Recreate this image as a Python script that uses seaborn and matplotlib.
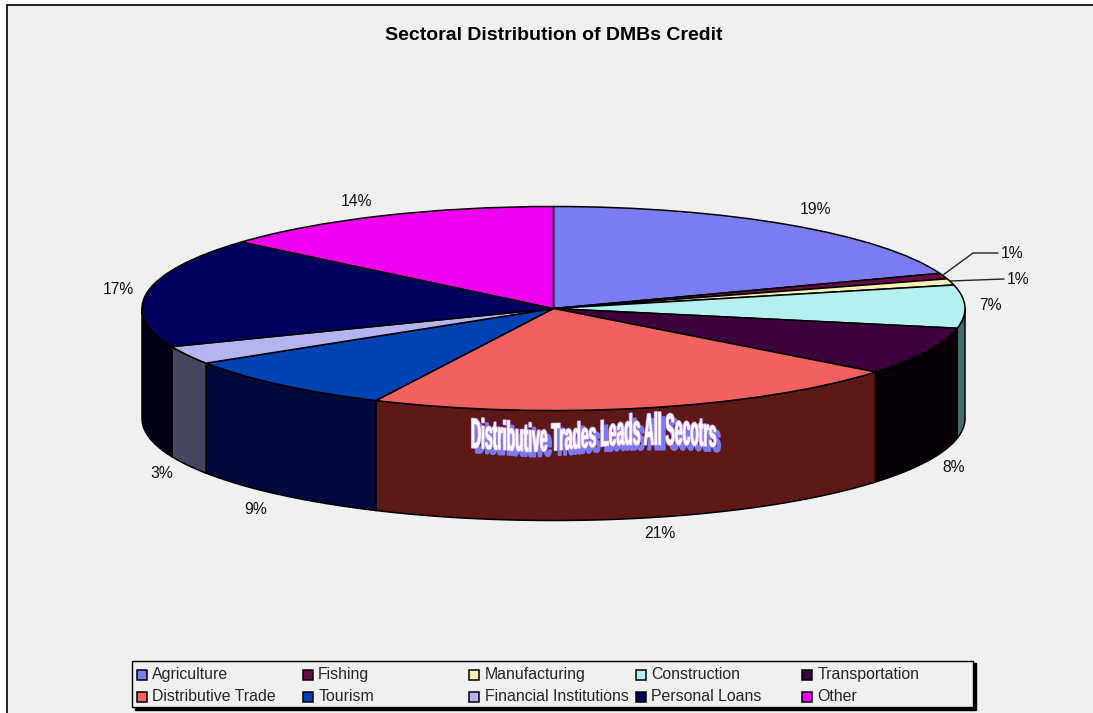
import numpy as np
import pandas as pd
import seaborn as sns
import matplotlib
matplotlib.use("Agg")
import matplotlib.pyplot as plt
import matplotlib.patheffects as pe
from matplotlib.colors import to_rgb
from matplotlib.path import Path
from matplotlib.patches import Rectangle, Patch
from matplotlib.transforms import IdentityTransform

# Sector shares of deposit money bank credit, in percent
sectors = ["Agriculture", "Fishing", "Manufacturing", "Construction", "Transportation",
           "Distributive Trade", "Tourism", "Financial Institutions", "Personal Loans", "Other"]
shares = [19.4, 0.9, 1.0, 6.8, 7.6, 21.4, 8.9, 2.9, 17.4, 13.7]

top_colors = ["#7b7bf2", "#6b0a46", "#f5f0b4", "#b4f0f0", "#3c003c",
              "#f26060", "#0041b4", "#b4b4f0", "#00005f", "#f000f0"]
side_colors = ["#32326b", "#2b0420", "#6b6b4c", "#456b6b", "#080008",
               "#5f1818", "#00083c", "#46465f", "#000014", "#6b006b"]

title_text = "Sectoral Distribution of DMBs Credit"
banner_text = "Distributive Trades Leads All Secotrs"

# Pixel layout of the page
W, H = 1093, 713
CX, CY = 553.5, 308.5
RX, RY = 411.5, 102.0
DEPTH = 110.0 / RY

# Centres of the percentage labels and optional leader lines
label_xy = [(815, 210), (1012, 254), (1018, 280), (990, 306), (954, 467),
            (660, 533), (256, 510), (162, 473), (118, 289), (356, 201)]
leaders = {1: [(943, 275), (973, 253), (998, 253)],
           2: [(950, 281), (1004, 279)]}


def to_data(px, py):
    return (px - CX) / RX, (CY - py) / RY


class WarpedLettering(pe.AbstractPathEffect):
    """Stretches a text path between a wavy top and bottom edge."""

    def __init__(self, span, tops, bottoms, layers):
        self.span, self.tops, self.bottoms = span, tops, bottoms
        self.layers = layers

    def draw_path(self, renderer, gc, tpath, affine, rgbFace=None):
        v = affine.transform(tpath.vertices)
        x0, y0 = v.min(axis=0)
        x1, y1 = v.max(axis=0)
        u = (v[:, 0] - x0) / (x1 - x0)
        t = (v[:, 1] - y0) / (y1 - y0)
        knots = np.linspace(0, 1, len(self.tops))
        top = np.interp(u, knots, self.tops)
        bottom = np.interp(u, knots, self.bottoms)
        for shift, color, lw in self.layers:
            x = self.span[0] + u * (self.span[1] - self.span[0]) + shift[0]
            y = bottom + t * (top - bottom) + shift[1]
            g = renderer.new_gc()
            g.copy_properties(gc)
            g.set_foreground(color)
            g.set_linewidth(lw)
            renderer.draw_path(g, Path(np.column_stack([x, H - y]), tpath.codes),
                               IdentityTransform(), to_rgb(color))
            g.restore()


sns.set_theme(style="white")
plt.rcParams["font.family"] = ["Liberation Sans", "DejaVu Sans"]
palette = sns.color_palette(top_colors)

data = pd.DataFrame({"sector": sectors, "share": shares, "side": side_colors})

fig = plt.figure(figsize=(W / 100, H / 100), dpi=100, facecolor="white")
fig.add_artist(Rectangle((7 / W, -0.1), 1.2, 1.1 - 5 / H, transform=fig.transFigure,
                         facecolor="#f0f0f0", edgecolor="black", linewidth=1.2, zorder=-5))
ax = fig.add_axes([0, 0, 1, 1])
ax.patch.set_visible(False)

wedges, _ = ax.pie(data["share"], colors=palette, startangle=90, counterclock=False,
                   radius=1.0, center=(0, 0),
                   wedgeprops=dict(edgecolor="black", linewidth=1.1, zorder=3))
ax.set_aspect("auto")
ax.set_xlim((0 - CX) / RX, (W - CX) / RX)
ax.set_ylim((CY - H) / RY, CY / RY)
ax.set_axis_off()

# Side wall of the disc: only the part of each slice facing the viewer
edges = 90 - 3.6 * np.cumsum([0] + shares)
for i, side in enumerate(data["side"]):
    a_start, a_end = edges[i + 1] % 360, edges[i + 1] % 360 + 3.6 * shares[i]
    lo, hi = max(a_start, 180), min(a_end, 360)
    if hi <= lo:
        # the slice may sit in the next turn of the circle
        lo, hi = max(a_start - 360, 180), min(a_end - 360, 360)
    if hi <= lo:
        continue
    th = np.radians(np.linspace(lo, hi, 80))
    xs, ys = np.cos(th), np.sin(th)
    ax.fill(np.r_[xs, xs[::-1]], np.r_[ys, ys[::-1] - DEPTH],
            facecolor=side, edgecolor="black", linewidth=1.1, zorder=2)

for i, (val, (px, py)) in enumerate(zip(shares, label_xy)):
    ax.text(*to_data(px, py), f"{val:.0f}%", ha="center", va="center",
            fontsize=11.3, color="#111111", zorder=6)
    if i in leaders:
        pts = np.array([to_data(*p) for p in leaders[i]])
        ax.plot(pts[:, 0], pts[:, 1], color="#222222", lw=1.0, zorder=5)

fig.text(553.5 / W, 1 - 36 / H, title_text, ha="center", va="center",
         fontsize=14, fontweight="bold", color="black")

# Banner lettering on the front wall: shadow, outline, then the white core
span = (471, 716)
tops = [417, 420, 423, 422, 421, 414, 412, 413, 419]
bottoms = [448, 450, 452, 450, 447, 445, 445, 445, 447]
banner = fig.text(593 / W, 1 - 433 / H, banner_text, ha="center", va="center",
                  fontsize=14, fontweight="bold", color="white", zorder=8)
banner.set_path_effects([WarpedLettering(span, tops, bottoms, [((4, 5), "#7a7af0", 1.5),
                                                               ((0, 0), "#bf90f0", 1.5),
                                                               ((0, 0), "#ffffff", 0.4)])])

handles = [Patch(facecolor=c, edgecolor="black", linewidth=1.1, label=s)
           for c, s in zip(palette, sectors)]
# Column-first order so the legend reads across its two rows
order = [i + 5 * r for i in range(5) for r in range(2)]
leg = fig.legend([handles[i] for i in order], [sectors[i] for i in order],
                 ncol=5, loc="lower left", bbox_to_anchor=(132 / W, 1 - 707 / H),
                 bbox_transform=fig.transFigure, borderaxespad=0, fontsize=11.4,
                 handlelength=0.63, handleheight=0.63, handletextpad=0.32,
                 columnspacing=0.47, labelspacing=0.44, borderpad=0.3,
                 fancybox=False, frameon=True, facecolor="#f0f0f0", framealpha=1,
                 edgecolor="black", shadow={"facecolor": "black", "edgecolor": "black", "alpha": 1})
leg.get_frame().set_linewidth(1.0)
leg._legend_handle_box.mode = "equal"

# Sit the entries a little lower inside the frame
for label in leg.get_texts():
    label.set_y(-2.2)
for swatch in leg.get_patches():
    swatch.set_y(swatch.get_y() - 2.2)

fig.savefig("out.png", dpi=100, facecolor="white")
